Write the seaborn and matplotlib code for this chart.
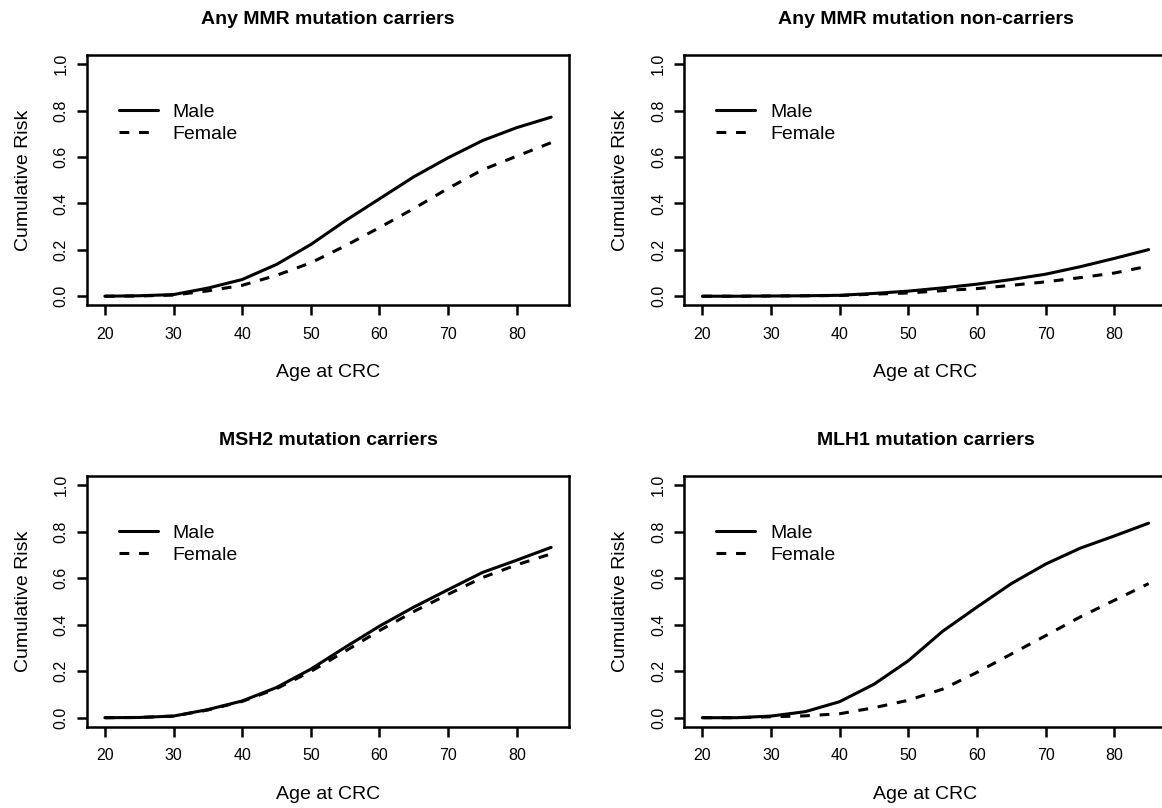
import numpy as np
import pandas as pd
import matplotlib
matplotlib.use("Agg")
import matplotlib.pyplot as plt
import seaborn as sns

# ages at which the cumulative risk was read
ages = [20, 25, 30, 35, 40, 45, 50, 55, 60, 65, 70, 75, 80, 85]

mmr_male = [0.000, 0.002, 0.007, 0.035, 0.072, 0.137, 0.223, 0.325, 0.420, 0.515, 0.597, 0.671, 0.727, 0.772]
mmr_female = [0.000, 0.001, 0.005, 0.023, 0.047, 0.090, 0.144, 0.217, 0.296, 0.378, 0.465, 0.545, 0.604, 0.662]

non_male = [0.000, 0.000, 0.001, 0.002, 0.004, 0.012, 0.022, 0.036, 0.052, 0.072, 0.095, 0.127, 0.163, 0.201]
non_female = [0.000, 0.000, 0.001, 0.002, 0.003, 0.009, 0.014, 0.024, 0.033, 0.047, 0.062, 0.080, 0.100, 0.130]

msh2_male = [0.000, 0.001, 0.007, 0.035, 0.072, 0.130, 0.209, 0.303, 0.394, 0.476, 0.551, 0.625, 0.678, 0.733]
msh2_female = [0.000, 0.001, 0.007, 0.033, 0.070, 0.125, 0.199, 0.286, 0.375, 0.457, 0.531, 0.603, 0.658, 0.705]

mlh1_male = [0.000, 0.000, 0.007, 0.026, 0.069, 0.144, 0.245, 0.372, 0.476, 0.577, 0.661, 0.729, 0.782, 0.837]
mlh1_female = [0.000, 0.000, 0.004, 0.008, 0.017, 0.043, 0.075, 0.123, 0.195, 0.274, 0.353, 0.433, 0.505, 0.577]

titles = ["Any MMR mutation carriers", "Any MMR mutation non-carriers",
          "MSH2 mutation carriers", "MLH1 mutation carriers"]
panels = [(mmr_male, mmr_female), (non_male, non_female),
          (msh2_male, msh2_female), (mlh1_male, mlh1_female)]

xticks = [20, 30, 40, 50, 60, 70, 80]
yticks = [0.0, 0.2, 0.4, 0.6, 0.8, 1.0]

sns.set_style("ticks")
plt.rcParams["font.family"] = ["Liberation Sans", "DejaVu Sans"]
plt.rcParams["axes.edgecolor"] = "black"
plt.rcParams["text.color"] = "black"
plt.rcParams["axes.labelcolor"] = "black"
plt.rcParams["xtick.color"] = "black"
plt.rcParams["ytick.color"] = "black"

W, H = 1162, 808
fig = plt.figure(figsize=(W / 100, H / 100), dpi=100)

# axes boxes in pixels: (left, top, right, bottom)
boxes = [(87, 55, 569, 305.5), (684.5, 55, 1166.5, 305.5),
         (87, 476, 569, 727), (684.5, 476, 1166.5, 727)]

for (male, female), title, (l, t, r, b) in zip(panels, titles, boxes):
    ax = fig.add_axes([l / W, 1 - b / H, (r - l) / W, (b - t) / H])
    df = pd.DataFrame({
        "age": ages + ages,
        "risk": male + female,
        "sex": ["Male"] * len(ages) + ["Female"] * len(ages),
    })
    sns.lineplot(data=df, x="age", y="risk", style="sex", ax=ax,
                 color="black", linewidth=2.2,
                 dashes={"Male": "", "Female": (3.2, 3.2)})

    ax.set_xlim(17.4, 87.6)
    ax.set_ylim(-0.04, 1.04)
    ax.set_xticks(xticks)
    ax.set_yticks(yticks)
    ax.set_yticklabels([f"{v:.1f}" for v in yticks], rotation=90, va="center")
    ax.tick_params(axis="both", labelsize=11.5, width=1.8, length=7.2,
                   color="black", labelcolor="black")
    ax.tick_params(axis="x", pad=8)
    ax.tick_params(axis="y", pad=6)

    for sp in ax.spines.values():
        sp.set_visible(True)
        sp.set_linewidth(1.8)

    ax.set_title(title, fontsize=14, fontweight="bold", pad=22.5, color="black")
    ax.set_xlabel("Age at CRC", fontsize=14)
    ax.set_ylabel("Cumulative Risk", fontsize=14)
    ax.xaxis.set_label_coords(0.5, -0.234)
    ax.yaxis.set_label_coords(-0.115, 0.5)

    handles, labels = ax.get_legend_handles_labels()
    for h in handles:
        h.set_linewidth(2.2)
    ax.legend(handles, labels, loc="upper left", bbox_to_anchor=(0.066, 0.808),
              frameon=False, fontsize=14, borderpad=0, borderaxespad=0,
              handlelength=2.0, handletextpad=0.77, labelspacing=0.22)

fig.savefig("out.png", dpi=100)
